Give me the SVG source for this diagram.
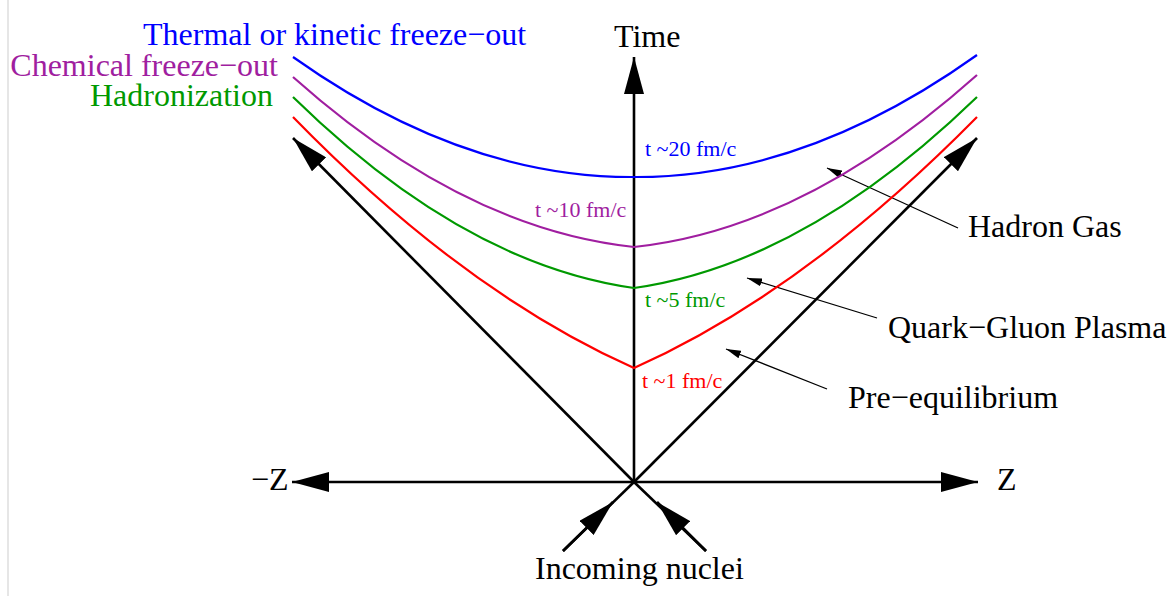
<svg xmlns="http://www.w3.org/2000/svg" width="1174" height="596" viewBox="0 0 1174 596">
<style>
text{font-family:"Liberation Serif","Times New Roman",serif;font-size:32px;fill:#000}
.sm{font-size:22px}
.ax{stroke:#000;stroke-width:2.6;fill:none}
.thin{stroke:#000;stroke-width:1.3;fill:none}
.cv{stroke-width:2.2;fill:none}
.blue{stroke:#0000ff}.purple{stroke:#a01ea0}.green{stroke:#009900}.red{stroke:#ff0000}
.tb{fill:#0000ff}.tp{fill:#a01ea0}.tg{fill:#009900}.tr{fill:#ff0000}
</style>
<defs>
<marker id="big" markerUnits="userSpaceOnUse" viewBox="0 0 37 20" markerWidth="37" markerHeight="20" refX="37" refY="10" orient="auto"><path d="M0,0 L37,10 L0,20 z" fill="#000"/></marker>
<marker id="small" markerUnits="userSpaceOnUse" viewBox="0 0 15 8" markerWidth="15" markerHeight="8" refX="15" refY="4" orient="auto"><path d="M0,0 L15,4 L0,8 z" fill="#000"/></marker>
</defs>
<rect width="1174" height="596" fill="#fff"/>
<line x1="8" y1="0" x2="8" y2="596" stroke="#e6e6e6" stroke-width="2"/>
<g id="connectors">
<line class="ax" x1="634" y1="482" x2="634" y2="57" marker-end="url(#big)"/>
<line class="ax" x1="634" y1="482" x2="292" y2="482" marker-end="url(#big)"/>
<line class="ax" x1="634" y1="482" x2="978" y2="482" marker-end="url(#big)"/>
<line class="ax" x1="634" y1="482" x2="293" y2="138" marker-end="url(#big)"/>
<line class="ax" x1="634" y1="482" x2="977" y2="138" marker-end="url(#big)"/>
<line class="ax" x1="563" y1="551" x2="613" y2="502" marker-end="url(#big)"/>
<line class="ax" x1="563" y1="551" x2="634" y2="482"/>
<line class="ax" x1="706" y1="551" x2="657" y2="502" marker-end="url(#big)"/>
<line class="ax" x1="706" y1="551" x2="634" y2="482"/>
<line class="thin" x1="958" y1="228" x2="827" y2="168" marker-end="url(#small)"/>
<line class="thin" x1="877" y1="318" x2="747" y2="278" marker-end="url(#small)"/>
<line class="thin" x1="827" y1="389" x2="726" y2="349" marker-end="url(#small)"/>
</g>
<g id="curves">
<path class="cv blue" d="M293,57 Q463.5,178 634,177 Q804.5,178 977,55"/>
<path class="cv purple" d="M293,77 Q463.5,229 634,247 Q804.5,229 977,75"/>
<path class="cv green" d="M293,97 Q463.5,264 634,288 Q804.5,264 977,97"/>
<path class="cv red" d="M293,117 Q463.5,292 634,368 Q804.5,292 977,117"/>
</g>
<g id="labels-left">
<text class="tb" x="143" y="45">Thermal or kinetic freeze−out</text>
<text class="tp" x="278" y="76" text-anchor="end">Chemical freeze−out</text>
<text class="tg" x="273" y="106" text-anchor="end">Hadronization</text>
</g>
<g id="time-labels">
<text class="sm tb" x="645" y="156">t ~20 fm/c</text>
<text class="sm tp" x="535" y="217">t ~10 fm/c</text>
<text class="sm tg" x="645" y="307">t ~5 fm/c</text>
<text class="sm tr" x="642" y="388">t ~1 fm/c</text>
</g>
<g id="axis-labels">
<text x="614" y="47">Time</text>
<text x="251" y="490">−Z</text>
<text x="997" y="490">Z</text>
<text x="535" y="579">Incoming nuclei</text>
</g>
<g id="region-labels">
<text x="968" y="237">Hadron Gas</text>
<text x="888" y="338">Quark−Gluon Plasma</text>
<text x="848" y="408">Pre−equilibrium</text>
</g>
</svg>
